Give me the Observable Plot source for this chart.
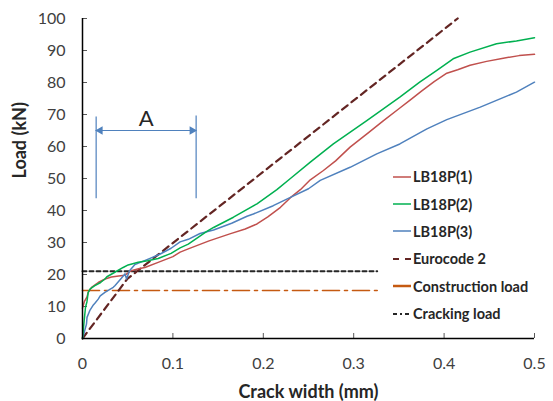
<!DOCTYPE html>
<html>
<head>
<meta charset="utf-8">
<script src="https://cdn.jsdelivr.net/npm/d3@7"></script>
<script src="https://cdn.jsdelivr.net/npm/@observablehq/plot@0.6"></script>
<style>
  html, body { margin: 0; padding: 0; background: #fff; }
  #wrap { position: relative; width: 553px; height: 401px; font-family: Lato, "Open Sans", sans-serif; }
  #legend { position: absolute; left: 393px; top: 163px; }
  .row { height: 27.4px; display: flex; align-items: center; font-weight: bold; font-size: 14.5px; color: #262626; }
  .row svg { width: 19px; height: 10px; margin-right: 1px; }
</style>
</head>
<body>
<div id="wrap"></div>
<script>
// ---- data ----
const xTicks = [0, 0.1, 0.2, 0.3, 0.4, 0.5];
const yTicks = [0, 10, 20, 30, 40, 50, 60, 70, 80, 90, 100];

const lb1 = [[0,9.5],[0.002,11.5],[0.005,13],[0.0063,14.4],[0.01,16],[0.0174,17.5],[0.025,18.6],[0.032,19.2],[0.04,19.5],[0.047,19.8],[0.054,21.2],[0.062,21.8],[0.069,22.2],[0.0837,23.8],[0.1,25.6],[0.108,27],[0.117,28],[0.14,30.5],[0.163,32.7],[0.18,34.2],[0.193,35.8],[0.205,38],[0.219,41],[0.23,44],[0.241,46.5],[0.252,49.6],[0.2665,52.5],[0.28,55.5],[0.296,59.8],[0.315,64],[0.333,68.1],[0.35,71.8],[0.362,74.4],[0.375,77.3],[0.389,80.3],[0.403,82.9],[0.415,84],[0.4287,85.4],[0.447,86.6],[0.4655,87.6],[0.483,88.4],[0.5,88.8]];
const lb2 = [[0,0],[0.0008,2.4],[0.002,6],[0.0033,9.7],[0.0049,11.5],[0.0063,14.4],[0.0085,15.5],[0.0137,16.5],[0.02,17.5],[0.0248,18.6],[0.027,19.3],[0.0358,20.7],[0.045,22.2],[0.0505,23],[0.0616,23.8],[0.072,24.3],[0.0837,25],[0.098,26.6],[0.108,28.3],[0.117,29.5],[0.1375,33.5],[0.145,34.7],[0.167,37.9],[0.193,42.1],[0.215,46.5],[0.23,50],[0.252,55.1],[0.2775,60.8],[0.3145,68.1],[0.351,75.4],[0.373,80.1],[0.392,83.8],[0.41,87.4],[0.4287,89.5],[0.458,92.1],[0.48,93],[0.5,94]];
const lb3 = [[0,0],[0.002,2],[0.0044,4.5],[0.005,6.6],[0.008,8.7],[0.012,10.5],[0.0137,11],[0.0174,12.3],[0.0196,13.3],[0.0248,14.4],[0.034,16],[0.0358,16.5],[0.043,18.8],[0.047,20.2],[0.0487,18.6],[0.052,21.2],[0.058,23.1],[0.064,23.8],[0.076,25.2],[0.086,26.4],[0.098,28.2],[0.108,30.2],[0.117,31],[0.13,32.8],[0.145,33.9],[0.165,36],[0.182,38.2],[0.189,38.9],[0.211,41.5],[0.23,44.1],[0.25,46.8],[0.263,49.4],[0.296,53.5],[0.3255,57.7],[0.351,60.8],[0.381,65.5],[0.403,68.4],[0.44,72.3],[0.48,77],[0.5,80.1]];
const eurocode = [[0,0],[0.0495,18.6],[0.415,100]];
const constructionLoad = [[0,15],[0.326,15]];
const crackingLoad = [[0,21],[0.326,21]];

// annotation "A" (data units)
const annotBars = [{x:0.0151, y1:43.7, y2:69.2},{x:0.1257, y1:43.7, y2:69.5}];
const annotArrow = {x1:0.0151, x2:0.1257, y:65};
const annotLabel = {x:0.0704, y:68.5, text:"A"};

const series = [
  {name:"LB18P(1)", color:"#C0504D", dash:null},
  {name:"LB18P(2)", color:"#00B050", dash:null},
  {name:"LB18P(3)", color:"#4F81BD", dash:null},
  {name:"Eurocode 2", color:"#632523", dash:"6,4"},
  {name:"Construction load", color:"#C55A11", dash:null},
  {name:"Cracking load", color:"#262626", dash:"4,3"}
];

const chart = Plot.plot({
  width: 553, height: 401,
  marginLeft: 82, marginRight: 19, marginTop: 18, marginBottom: 63,
  style: {fontFamily: "Lato, 'Open Sans', sans-serif", background: "white"},
  x: {domain: [0, 0.5]},
  y: {domain: [0, 100]},
  marks: [
    Plot.axisY({ticks: yTicks, tickSize: -5, tickPadding: 22, stroke: "#595959", fill: "#404040", fontSize: 16, label: null}),
    Plot.axisX({ticks: xTicks, tickSize: -5, tickPadding: 24, stroke: "#595959", fill: "#404040", fontSize: 16, label: null, tickFormat: d => d === 0 ? "0" : String(d)}),
    Plot.text(["Crack width (mm)"], {frameAnchor: "bottom", dy: 59, fontSize: 18, fontWeight: "bold", fill: "#262626"}),
    Plot.text(["Load (kN)"], {frameAnchor: "left", rotate: -90, dx: -62, fontSize: 18, fontWeight: "bold", fill: "#262626"}),
    Plot.line(crackingLoad, {x: d => d[0], y: d => d[1], stroke: "#262626", strokeWidth: 2, strokeDasharray: "4,3"}),
    Plot.line(constructionLoad, {x: d => d[0], y: d => d[1], stroke: "#C55A11", strokeWidth: 1.6, strokeDasharray: "17,5,3,5"}),
    Plot.line(eurocode, {x: d => d[0], y: d => d[1], stroke: "#632523", strokeWidth: 2.2, strokeDasharray: "7,5"}),
    Plot.line(lb1, {x: d => d[0], y: d => d[1], stroke: "#C0504D", strokeWidth: 1.5}),
    Plot.line(lb3, {x: d => d[0], y: d => d[1], stroke: "#4F81BD", strokeWidth: 1.5}),
    Plot.line(lb2, {x: d => d[0], y: d => d[1], stroke: "#00B050", strokeWidth: 1.5}),
    Plot.ruleX(annotBars, {x: "x", y1: "y1", y2: "y2", stroke: "#4F81BD", strokeWidth: 1.2}),
    Plot.ruleY([annotArrow], {y: "y", x1: "x1", x2: "x2", stroke: "#4F81BD", strokeWidth: 1.2}),
    Plot.dot([annotArrow], {x: "x1", y: "y", symbol: "triangle", r: 3.2, rotate: -90, dx: 4, fill: "#4F81BD", stroke: null}),
    Plot.dot([annotArrow], {x: "x2", y: "y", symbol: "triangle", r: 3.2, rotate: 90, dx: -4, fill: "#4F81BD", stroke: null}),
    Plot.text([annotLabel], {x: "x", y: "y", text: "text", fontSize: 22, fill: "#262626"}),
    Plot.ruleX([0], {stroke: "#000", strokeWidth: 1.5}),
    Plot.ruleY([0], {stroke: "#000", strokeWidth: 1.5})
  ]
});

const wrap = document.getElementById("wrap");
wrap.appendChild(chart);

const legend = document.createElement("div");
legend.id = "legend";
const samples = {
  "LB18P(1)": '<line x1="0" y1="5" x2="18" y2="5" stroke="#C0504D" stroke-width="1.5"/>',
  "LB18P(2)": '<line x1="0" y1="5" x2="18" y2="5" stroke="#00B050" stroke-width="1.5"/>',
  "LB18P(3)": '<line x1="0" y1="5" x2="18" y2="5" stroke="#4F81BD" stroke-width="1.5"/>',
  "Eurocode 2": '<line x1="0" y1="5" x2="18" y2="5" stroke="#632523" stroke-width="2" stroke-dasharray="6,6"/>',
  "Construction load": '<line x1="0" y1="5" x2="18" y2="5" stroke="#C55A11" stroke-width="2.5"/>',
  "Cracking load": '<line x1="0" y1="5" x2="18" y2="5" stroke="#262626" stroke-width="2" stroke-dasharray="4,3,2,3"/>'
};
for (const s of series) {
  const row = document.createElement("div");
  row.className = "row";
  row.innerHTML = `<svg viewBox="0 0 19 10">${samples[s.name]}</svg><span>${s.name}</span>`;
  legend.appendChild(row);
}
wrap.appendChild(legend);
</script>
</body>
</html>
